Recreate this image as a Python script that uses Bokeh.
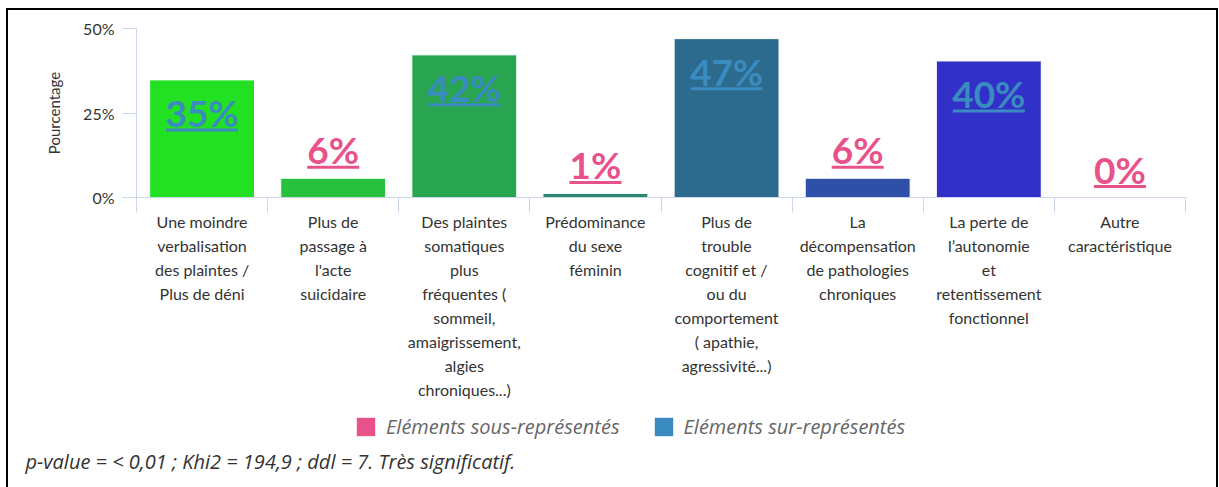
from bokeh.plotting import figure
from bokeh.layouts import column
from bokeh.models import (Range1d, LinearAxis, FixedTicker, CustomJSTickFormatter,
                          ColumnDataSource, Legend, LegendItem, Title, PrintfTickFormatter)
from bokeh.embed import file_html
from bokeh.resources import INLINE
from bokeh.core.properties import value

# ---------------- data ----------------
categories = [
    "Une moindre\nverbalisation\ndes plaintes /\nPlus de déni",
    "Plus de\npassage à\nl'acte\nsuicidaire",
    "Des plaintes\nsomatiques\nplus\nfréquentes (\nsommeil,\namaigrissement,\nalgies\nchroniques...)",
    "Prédominance\ndu sexe\nféminin",
    "Plus de\ntrouble\ncognitif et /\nou du\ncomportement\n( apathie,\nagressivité...)",
    "La\ndécompensation\nde pathologies\nchroniques",
    "La perte de\nl’autonomie\net\nretentissement\nfonctionnel",
    "Autre\ncaractéristique",
]
values = [34.8, 5.7, 42.2, 1.2, 47.0, 5.7, 40.4, 0.0]
status = ["sur", "sous", "sur", "sous", "sur", "sous", "sur", "sous"]
bar_colors = ["#22e022", "#27c13e", "#29a552", "#2a8a6d", "#2c6a8e", "#2f4fa9", "#3131c9", "#3a2fc8"]
y_ticks = [0, 25, 50]
legend_labels = ["Eléments sous-représentés", "Eléments sur-représentés"]
status_colors = {"sous": "#e8518a", "sur": "#3a8bbf"}
footer = "p-value = < 0,01 ; Khi2 = 194,9 ; ddl = 7. Très significatif."

# ---------------- layout ----------------
W, H1, H2 = 1208, 400, 77
FL, FR, FT, FB = 128, 31, 18, 213
n = len(categories)
frame_w = W - FL - FR
frame_h = H1 - FT - FB
px_x = frame_w / n
px_y = frame_h / 50.0

p = figure(width=W, height=H1, output_backend="svg", toolbar_location=None,
           x_range=Range1d(0, n), y_range=Range1d(0, 50),
           x_axis_location=None, y_axis_location=None,
           min_border_left=FL, min_border_right=FR, min_border_top=FT, min_border_bottom=FB)
p.grid.visible = False
p.outline_line_color = None
p.background_fill_color = "white"
p.border_fill_color = "white"

axis_col = "#ccd6eb"
xaxis = LinearAxis(
    ticker=FixedTicker(ticks=[i + 0.5 for i in range(n)], minor_ticks=list(range(n + 1))),
    formatter=CustomJSTickFormatter(args=dict(labels=categories),
                                    code="return labels[Math.floor(tick)];"),
    axis_line_color=axis_col, major_tick_line_color=None, major_tick_out=0, major_tick_in=0,
    minor_tick_out=15, minor_tick_in=0, minor_tick_line_color=axis_col,
    major_label_standoff=-1, major_label_text_font="Lato", major_label_text_font_size="16px",
    major_label_text_color="#333333", major_label_text_line_height=1.27,
)
p.add_layout(xaxis, "below")

yaxis = LinearAxis(
    ticker=FixedTicker(ticks=y_ticks), formatter=PrintfTickFormatter(format="%d%%"),
    axis_label="Pourcentage", axis_line_color=axis_col, major_tick_line_color=axis_col,
    major_tick_out=14, major_tick_in=0, minor_tick_line_color=None,
    major_label_standoff=8, major_label_text_font="Lato", major_label_text_font_size="16px",
    major_label_text_color="#333333", axis_label_standoff=17, axis_label_text_font="Lato",
    axis_label_text_font_size="15px", axis_label_text_font_style="normal",
    axis_label_text_color="#333333",
)
p.add_layout(yaxis, "left")

# ---------------- bars ----------------
xs = [i + 0.5 for i in range(n)]
labels = ["%d%%" % round(v) for v in values]
lcolors = [status_colors[s] for s in status]
ly = [v - 32.5 / px_y if v >= 20 else v + 28.5 / px_y for v in values]
uy = [v - 50 / px_y if v >= 20 else v + 11 / px_y for v in values]
hw = [(20 * len(t) + 12) / 2.0 / px_x for t in labels]

src = ColumnDataSource(dict(x=xs, top=values, color=bar_colors, label=labels, lcolor=lcolors,
                            ly=ly, uy=uy, ux0=[x - h for x, h in zip(xs, hw)],
                            ux1=[x + h for x, h in zip(xs, hw)]))

p.vbar(x="x", top="top", bottom=0, width=0.8, fill_color="color", line_color="white",
       line_width=1, source=src)
p.text(x="x", y="ly", text="label", text_color="lcolor", text_font=value("Lato"),
       text_font_style="bold", text_font_size="37px", text_align="center",
       text_baseline="middle", source=src)
p.segment(x0="ux0", y0="uy", x1="ux1", y1="uy", line_color="lcolor", line_width=3, source=src)

# ---------------- legend + footer (second figure) ----------------
B2 = 42
p2 = figure(width=W, height=H2, output_backend="svg", toolbar_location=None,
            x_range=Range1d(0, 1), y_range=Range1d(0, 1),
            x_axis_location=None, y_axis_location=None,
            min_border_left=0, min_border_right=0, min_border_top=0, min_border_bottom=B2)
p2.grid.visible = False
p2.outline_line_color = None
p2.border_fill_color = "white"

# legend swatches (renderers kept outside the visible range; only their legend glyphs show)
r_sous = p2.quad(left=[-3], right=[-2], top=[-2], bottom=[-3],
                 fill_color=status_colors["sous"], line_color=None)
r_sur = p2.quad(left=[-3], right=[-2], top=[-2], bottom=[-3],
                fill_color=status_colors["sur"], line_color=None)
legend = Legend(items=[LegendItem(label=legend_labels[0], renderers=[r_sous]),
                       LegendItem(label=legend_labels[1], renderers=[r_sur])],
                location=(218, 5), orientation="horizontal", padding=0, margin=0,
                spacing=32, label_standoff=9, glyph_width=23, glyph_height=23, label_height=19,
                border_line_color=None, background_fill_alpha=0,
                label_text_font="Open Sans", label_text_font_style="italic",
                label_text_font_size="20px", label_text_color="#666666")
p2.add_layout(legend)

p2.add_layout(Title(text=footer, align="left", offset=-111, standoff=0,
                    text_font="Open Sans", text_font_style="italic", text_font_size="20px",
                    text_color="#333333"), "below")

layout = column(p, p2, spacing=0,
                styles={"border-top": "2px solid black", "border-left": "2px solid black",
                        "border-right": "2px solid black", "margin-left": "6px",
                        "margin-top": "8px"})

open("out.html", "w").write(file_html(layout, INLINE))
